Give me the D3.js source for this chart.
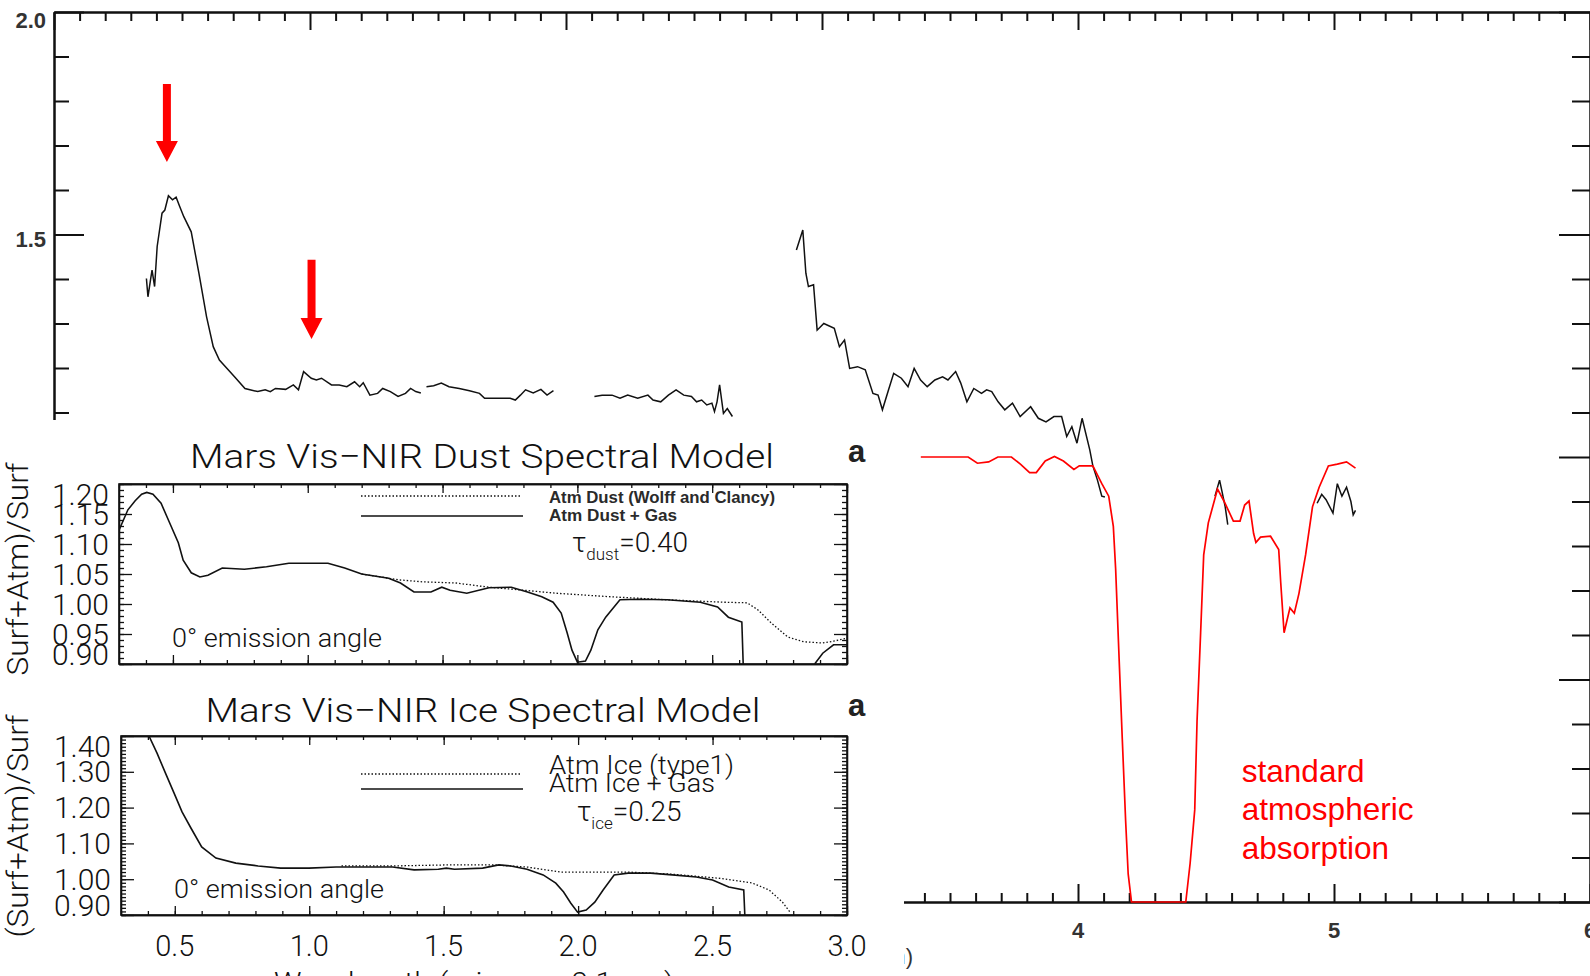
<!DOCTYPE html>
<html>
<head>
<meta charset="utf-8">
<script src="https://d3js.org/d3.v7.min.js" type="text/javascript"></script>
<style>
    body {
        margin: 0;
        background: #fff;
    }
    svg {
        display: block;
    }
    .axis path,
    .axis line {
        stroke: #111;
        stroke-width: 2px;
    }
    .inset .axis path,
    .inset .axis line {
        stroke-width: 1.3px;
    }
    .mainlabel {
        font-family: "Liberation Sans", Arial, sans-serif;
        font-size: 22px;
        font-weight: bold;
        fill: #333;
    }
    .hs {
        font-family: Roboto, "DejaVu Sans", sans-serif;
        font-weight: 300;
        fill: #111;
    }
    .obs {
        fill: none;
        stroke: #111;
        stroke-width: 1.5px;
    }
    .atmos {
        fill: none;
        stroke: #ff0000;
        stroke-width: 1.7px;
    }
    .model {
        fill: none;
        stroke: #111;
        stroke-width: 1.6px;
    }
    .model.dotted {
        stroke-width: 1.3px;
        stroke-dasharray: 1.5, 2;
    }
</style>
</head>
<body>
<svg id="chart" width="1590" height="976"></svg>
<script type="text/javascript">
// ---- observed ratio spectrum (black), in pieces, [wavelength um, ratio]
var obsSeg1 = [[0.361, 1.401], [0.367, 1.36], [0.377, 1.398], [0.383, 1.42], [0.393, 1.383], [0.403, 1.473],
    [0.422, 1.548], [0.433, 1.555], [0.447, 1.587], [0.463, 1.578], [0.477, 1.584], [0.491, 1.563],
    [0.507, 1.54], [0.536, 1.506], [0.566, 1.413], [0.596, 1.315], [0.622, 1.248], [0.646, 1.218],
    [0.676, 1.199], [0.706, 1.18], [0.746, 1.154], [0.796, 1.147], [0.825, 1.151], [0.845, 1.147],
    [0.865, 1.154], [0.905, 1.152], [0.935, 1.162], [0.955, 1.151], [0.975, 1.192], [1.005, 1.177],
    [1.025, 1.173], [1.045, 1.177], [1.084, 1.162], [1.114, 1.162], [1.144, 1.158], [1.174, 1.169],
    [1.194, 1.158], [1.208, 1.167], [1.234, 1.139], [1.264, 1.143], [1.284, 1.154], [1.314, 1.147],
    [1.344, 1.136], [1.373, 1.143], [1.393, 1.154], [1.413, 1.147], [1.433, 1.144]];
var obsSeg1b = [[1.455, 1.158], [1.483, 1.16], [1.513, 1.166], [1.543, 1.158], [1.583, 1.154], [1.623, 1.149],
    [1.662, 1.143], [1.682, 1.132], [1.752, 1.132], [1.782, 1.132], [1.802, 1.128], [1.822, 1.139],
    [1.842, 1.151], [1.872, 1.144], [1.902, 1.152], [1.926, 1.139], [1.951, 1.149]];
var obsSeg2 = [[2.111, 1.136], [2.141, 1.139], [2.18, 1.139], [2.211, 1.132], [2.241, 1.139], [2.28, 1.132],
    [2.32, 1.139], [2.34, 1.128], [2.37, 1.124], [2.40, 1.139], [2.43, 1.151], [2.46, 1.139],
    [2.49, 1.136], [2.51, 1.124], [2.53, 1.128], [2.55, 1.117], [2.57, 1.121], [2.58, 1.102],
    [2.59, 1.124], [2.60, 1.162], [2.615, 1.098], [2.63, 1.109], [2.65, 1.091]];
var obsSeg3 = [[2.90, 1.465], [2.925, 1.51], [2.937, 1.413], [2.947, 1.383], [2.967, 1.387], [2.981, 1.285],
    [3.007, 1.30], [3.048, 1.289], [3.068, 1.248], [3.088, 1.263], [3.108, 1.199], [3.139, 1.203],
    [3.169, 1.196], [3.199, 1.143], [3.219, 1.139], [3.236, 1.106], [3.26, 1.151], [3.28, 1.188],
    [3.31, 1.177], [3.336, 1.158], [3.36, 1.199], [3.385, 1.173], [3.411, 1.158], [3.441, 1.173],
    [3.471, 1.18], [3.492, 1.173], [3.522, 1.192], [3.542, 1.166], [3.566, 1.124], [3.593, 1.154],
    [3.623, 1.143], [3.643, 1.151], [3.663, 1.147], [3.688, 1.124], [3.714, 1.106], [3.744, 1.121],
    [3.774, 1.091], [3.815, 1.113], [3.845, 1.087], [3.875, 1.079], [3.906, 1.091], [3.936, 1.091],
    [3.956, 1.046], [3.976, 1.068], [3.996, 1.031], [4.016, 1.087], [4.046, 1.016], [4.058, 0.98],
    [4.076, 0.948], [4.093, 0.912], [4.105, 0.91]];
var obsSeg4 = [[4.535, 0.912], [4.553, 0.948], [4.562, 0.924], [4.575, 0.888], [4.585, 0.848]];
var obsSeg5 = [[4.934, 0.896], [4.952, 0.916], [4.969, 0.904], [4.996, 0.874], [5.013, 0.94], [5.031, 0.912],
    [5.049, 0.932], [5.066, 0.90], [5.075, 0.87], [5.084, 0.88]];

// ---- standard atmospheric transmission (red)
var atmWl = [3.386, 3.571, 3.607, 3.651, 3.687, 3.74, 3.775, 3.811, 3.837, 3.872, 3.908, 3.943, 3.984,
    4.005, 4.058, 4.093, 4.12, 4.138, 4.147, 4.161, 4.173, 4.186, 4.196, 4.209, 4.421, 4.438, 4.456,
    4.465, 4.479, 4.491, 4.509, 4.545, 4.571, 4.607, 4.633, 4.651, 4.668, 4.686, 4.695, 4.713, 4.752,
    4.784, 4.792, 4.805, 4.828, 4.845, 4.863, 4.889, 4.916, 4.942, 4.978, 5.013, 5.049, 5.084];
var atmVal = [1.0, 1.0, 0.986, 0.989, 1.0, 1.0, 0.984, 0.965, 0.965, 0.991, 1.001, 0.991, 0.972,
    0.98, 0.98, 0.94, 0.912, 0.844, 0.749, 0.541, 0.366, 0.183, 0.063, 0.0, 0.0, 0.087, 0.207,
    0.406, 0.605, 0.78, 0.852, 0.928, 0.90, 0.856, 0.856, 0.892, 0.901, 0.828, 0.808, 0.82, 0.822,
    0.792, 0.717, 0.605, 0.661, 0.649, 0.693, 0.78, 0.888, 0.932, 0.98, 0.984, 0.989, 0.975];

// arrows marking the absorption features
var arrowMarks = [{ wl: 0.441, from: 1.838, to: 1.663 }, { wl: 1.006, from: 1.443, to: 1.265 }];
var atmLabel = ["standard", "atmospheric", "absorption"];

// ---- model panels (inset), [wavelength um, (Surf+Atm)/Surf]
var dustGas = [[0.30, 1.123], [0.333, 1.157], [0.36, 1.172], [0.384, 1.183], [0.403, 1.186], [0.426, 1.183],
    [0.456, 1.168], [0.486, 1.137], [0.52, 1.102], [0.538, 1.073], [0.568, 1.052], [0.60, 1.045],
    [0.63, 1.048], [0.683, 1.06], [0.765, 1.058], [0.847, 1.062], [0.93, 1.068], [1.075, 1.068],
    [1.137, 1.06], [1.20, 1.05], [1.30, 1.043], [1.344, 1.035], [1.394, 1.02], [1.457, 1.02],
    [1.497, 1.028], [1.528, 1.023], [1.59, 1.018], [1.672, 1.027], [1.755, 1.028], [1.815, 1.02],
    [1.868, 1.012], [1.91, 1.003], [1.94, 0.985], [1.962, 0.952], [1.98, 0.923], [2.0, 0.903],
    [2.03, 0.905], [2.05, 0.923], [2.076, 0.957], [2.105, 0.978], [2.136, 0.995], [2.158, 1.007],
    [2.23, 1.008], [2.333, 1.007], [2.456, 1.003], [2.52, 0.995], [2.56, 0.978], [2.61, 0.97],
    [2.615, 0.90]];
var dustGasTail = [[2.88, 0.90], [2.91, 0.918], [2.95, 0.932], [3.0, 0.932]];
var dustOnly = [[1.20, 1.05], [1.30, 1.043], [1.344, 1.04], [1.425, 1.037], [1.55, 1.035], [1.672, 1.028],
    [1.80, 1.023], [1.92, 1.018], [2.125, 1.012], [2.333, 1.007], [2.54, 1.003], [2.63, 1.002],
    [2.67, 0.99], [2.72, 0.968], [2.78, 0.945], [2.84, 0.937], [2.91, 0.935], [2.95, 0.938], [3.0, 0.943]];

var iceGas = [[0.404, 1.40], [0.434, 1.352], [0.465, 1.297], [0.497, 1.241], [0.527, 1.188], [0.56, 1.143],
    [0.60, 1.09], [0.653, 1.059], [0.727, 1.045], [0.81, 1.037], [0.894, 1.031], [0.999, 1.031],
    [1.10, 1.034], [1.31, 1.034], [1.39, 1.026], [1.48, 1.028], [1.51, 1.031], [1.54, 1.028],
    [1.645, 1.031], [1.705, 1.04], [1.75, 1.037], [1.81, 1.028], [1.87, 1.012], [1.917, 0.989],
    [1.946, 0.964], [1.973, 0.933], [1.998, 0.908], [2.03, 0.914], [2.062, 0.936], [2.093, 0.97],
    [2.134, 1.012], [2.186, 1.017], [2.27, 1.017], [2.35, 1.012], [2.44, 1.006], [2.50, 0.998],
    [2.56, 0.978], [2.616, 0.97], [2.62, 0.90]];
var iceOnly = [[1.12, 1.037], [1.31, 1.037], [1.52, 1.04], [1.685, 1.04], [1.81, 1.034], [1.936, 1.02],
    [2.06, 1.02], [2.186, 1.02], [2.35, 1.014], [2.52, 1.003], [2.645, 0.99], [2.71, 0.97],
    [2.76, 0.936], [2.79, 0.906]];

var dustTickLabels = [0.90, 0.95, 1.00, 1.05, 1.10, 1.15, 1.20];
var iceTickLabels = [0.90, 1.00, 1.10, 1.20, 1.30, 1.40];
var insetXLabels = [0.5, 1.0, 1.5, 2.0, 2.5, 3.0];


var svg = d3.select("#chart");

// ================= background plot =================
var x = d3.scaleLinear().domain([0, 6]).range([54, 1590]);
var y = d3.scaleLinear().domain([0, 2]).range([902, 12]);

var main = svg.append("g");

var xt = d3.range(0, 61).map(function(d) { return d / 10; });
var xMajor = xt.filter(function(d) { return d % 1 === 0; });
var xMinor = xt.filter(function(d) { return d % 1 !== 0; });
var yt = d3.range(0, 21).map(function(d) { return d / 10; });
var yMajor = yt.filter(function(d) { return Math.round(d * 10) % 5 === 0; });
var yMinor = yt.filter(function(d) { return Math.round(d * 10) % 5 !== 0; });

function ticks(g, axis, values, size) {
    g.call(axis.tickValues(values).tickSize(size).tickSizeOuter(0).tickFormat(""));
}

// top (ticks pointing down)
var topAx = main.append("g").attr("class", "axis").attr("transform", "translate(0,12)");
ticks(topAx.append("g"), d3.axisBottom(x), xMinor, 9);
ticks(topAx.append("g"), d3.axisBottom(x), xMajor, 18);
// bottom (ticks pointing up)
var botAx = main.append("g").attr("class", "axis").attr("transform", "translate(0,902)");
ticks(botAx.append("g"), d3.axisTop(x), xMinor, 9);
ticks(botAx.append("g"), d3.axisTop(x), xMajor, 18);
// left
var lftAx = main.append("g").attr("class", "axis").attr("transform", "translate(54,0)");
ticks(lftAx.append("g"), d3.axisRight(y), yMinor, 15);
ticks(lftAx.append("g"), d3.axisRight(y), yMajor, 30);
// right
var rgtAx = main.append("g").attr("class", "axis").attr("transform", "translate(1590,0)");
ticks(rgtAx.append("g"), d3.axisLeft(y), yMinor, 18);
ticks(rgtAx.append("g"), d3.axisLeft(y), yMajor, 31);

main.selectAll(".ylab")
    .data(yMajor)
    .enter()
    .append("text")
    .attr("class", "mainlabel")
    .attr("x", 46)
    .attr("y", function(d) { return Math.max(y(d) + 4, 20) + 8; })
    .attr("text-anchor", "end")
    .text(function(d) { return d.toFixed(1); });

main.selectAll(".xlab")
    .data(xMajor)
    .enter()
    .append("text")
    .attr("class", "mainlabel")
    .attr("x", function(d) { return x(d); })
    .attr("y", 938)
    .attr("text-anchor", "middle")
    .text(function(d) { return d; });

// x title, mostly hidden behind the pasted panels
main.append("text")
    .attr("class", "mainlabel")
    .attr("x", 913)
    .attr("y", 964)
    .attr("text-anchor", "end")
    .style("font-weight", "normal")
    .text("Wavelength (\u00b5m)");

var line = d3.line()
    .x(function(d) { return x(d[0]); })
    .y(function(d) { return y(d[1]); });

main.selectAll(".obs")
    .data([obsSeg1, obsSeg1b, obsSeg2, obsSeg3, obsSeg4, obsSeg5])
    .enter()
    .append("path")
    .attr("class", "obs")
    .attr("d", line);

main.append("path")
    .datum(d3.zip(atmWl, atmVal))
    .attr("class", "atmos")
    .attr("d", line);

main.selectAll(".arrow")
    .data(arrowMarks)
    .enter()
    .append("path")
    .attr("class", "arrow")
    .attr("fill", "#ff0000")
    .attr("d", function(a) {
        var cx = x(a.wl), y0 = y(a.from), y1 = y(a.to), hb = y1 - 21;
        return "M" + (cx - 4) + "," + y0 + "H" + (cx + 4) + "V" + hb + "H" + (cx + 11) +
            "L" + cx + "," + y1 + "L" + (cx - 11) + "," + hb + "H" + (cx - 4) + "Z";
    });

main.append("text")
    .attr("x", x(4.64))
    .attr("y", y(0.27))
    .attr("fill", "#ff0000")
    .style("font-family", "'Liberation Sans', Arial, sans-serif")
    .style("font-size", "31.5px")
    .selectAll("tspan")
    .data(atmLabel)
    .enter()
    .append("tspan")
    .attr("x", x(4.64))
    .attr("dy", function(d, i) { return i ? 38.5 : 0; })
    .text(function(d) { return d; });

// the model panels sit on a white patch over the lower left
svg.append("rect")
    .attr("x", 0).attr("y", 420)
    .attr("width", 904).attr("height", 556)
    .attr("fill", "#fff");

// ================= inset model panels =================
function panel(cfg) {
    var g = svg.append("g").attr("class", "inset");
    var px = d3.scaleLinear().domain([0.3, 3.0]).range([cfg.left, cfg.right]);
    var py = d3.scaleLinear().domain(cfg.yDomain).range([cfg.bottom, cfg.top]);

    g.append("clipPath").attr("id", cfg.id + "clip")
        .append("rect")
        .attr("x", cfg.left).attr("y", cfg.top)
        .attr("width", cfg.right - cfg.left).attr("height", cfg.bottom - cfg.top);

    var pxt = d3.range(3, 31).map(function(d) { return d / 10; });
    var pxMaj = pxt.filter(function(d) { return Math.round(d * 10) % 5 === 0; });
    var pyt = d3.range(Math.round(cfg.yDomain[0] * 100), Math.round(cfg.yDomain[1] * 100) + 1)
        .map(function(d) { return d / 100; });
    var pyMaj = pyt.filter(function(d) { return Math.round(d * 100) % cfg.majorEvery === 0; });

    var bAx = g.append("g").attr("class", "axis").attr("transform", "translate(0," + cfg.bottom + ")");
    ticks(bAx.append("g"), d3.axisTop(px), pxt, 4);
    ticks(bAx.append("g"), d3.axisTop(px), pxMaj, 9);
    var tAx = g.append("g").attr("class", "axis").attr("transform", "translate(0," + cfg.top + ")");
    ticks(tAx.append("g"), d3.axisBottom(px), pxt, 4);
    ticks(tAx.append("g"), d3.axisBottom(px), pxMaj, 9);
    var lAx = g.append("g").attr("class", "axis").attr("transform", "translate(" + cfg.left + ",0)");
    ticks(lAx.append("g"), d3.axisRight(py), pyt, 5);
    ticks(lAx.append("g"), d3.axisRight(py), pyMaj, 13);
    var rAx = g.append("g").attr("class", "axis").attr("transform", "translate(" + cfg.right + ",0)");
    ticks(rAx.append("g"), d3.axisLeft(py), pyt, 5);
    ticks(rAx.append("g"), d3.axisLeft(py), pyMaj, 13);

    g.append("rect")
        .attr("x", cfg.left).attr("y", cfg.top)
        .attr("width", cfg.right - cfg.left).attr("height", cfg.bottom - cfg.top)
        .attr("fill", "none").attr("stroke", "#111").attr("stroke-width", 1.6);

    // y tick labels, squeezed inside the frame at the ends
    g.selectAll(".ytl")
        .data(cfg.yLabels)
        .enter()
        .append("text")
        .attr("class", "hs")
        .attr("x", cfg.left - 10)
        .attr("y", function(d) {
            return Math.min(Math.max(py(d), cfg.top + 10), cfg.bottom - 10) + 10.5;
        })
        .attr("text-anchor", "end")
        .style("font-size", "30px")
        .text(function(d) { return d.toFixed(2); });

    var pline = d3.line()
        .x(function(d) { return px(d[0]); })
        .y(function(d) { return py(d[1]); });

    var curves = g.append("g").attr("clip-path", "url(#" + cfg.id + "clip)");
    cfg.dotted.forEach(function(s) {
        curves.append("path").datum(s).attr("class", "model dotted").attr("d", pline);
    });
    cfg.solid.forEach(function(s) {
        curves.append("path").datum(s).attr("class", "model").attr("d", pline);
    });

    // title and panel letter
    g.append("text")
        .attr("class", "hs")
        .attr("x", cfg.titleX).attr("y", cfg.titleY)
        .attr("text-anchor", "middle")
        .attr("textLength", cfg.titleLen)
        .attr("lengthAdjust", "spacingAndGlyphs")
        .style("font-size", "34px")
        .text(cfg.title);
    g.append("text")
        .attr("x", cfg.right + 1).attr("y", cfg.titleY - 6)
        .style("font-family", "'Liberation Sans', Arial, sans-serif")
        .style("font-weight", "bold")
        .style("font-size", "31px")
        .attr("fill", "#222")
        .text("a");

    g.append("text")
        .attr("class", "hs")
        .attr("x", cfg.left + 53).attr("y", cfg.bottom - 17)
        .attr("textLength", 210)
        .attr("lengthAdjust", "spacingAndGlyphs")
        .style("font-size", "26px")
        .text("0\u00b0 emission angle");

    // legend
    g.append("line").attr("class", "model dotted")
        .attr("x1", 361).attr("x2", 521).attr("y1", cfg.legY[0]).attr("y2", cfg.legY[0]);
    g.append("line").attr("class", "model")
        .attr("x1", 361).attr("x2", 523).attr("y1", cfg.legY[1]).attr("y2", cfg.legY[1]);

    // y-axis title
    var yl = g.append("g");
    if (cfg.yTitleClip) {
        g.append("clipPath").attr("id", cfg.id + "yclip")
            .append("rect").attr("x", 0).attr("y", 420).attr("width", 60).attr("height", cfg.yTitleClip - 420);
        yl.attr("clip-path", "url(#" + cfg.id + "yclip)");
    }
    yl.append("text")
        .attr("class", "hs")
        .attr("transform", "translate(28," + cfg.yTitleY + ") rotate(-90)")
        .attr("text-anchor", "middle")
        .attr("textLength", 223)
        .attr("lengthAdjust", "spacingAndGlyphs")
        .style("font-size", "30px")
        .text("(Surf+Atm)/Surf");

    return { g: g, px: px, py: py };
}

var dust = panel({
    id: "dust", left: 119, right: 847, top: 484, bottom: 664, yDomain: [0.9, 1.2], majorEvery: 5,
    yLabels: dustTickLabels, solid: [dustGas, dustGasTail], dotted: [dustOnly],
    title: "Mars Vis\u2212NIR Dust Spectral Model", titleX: 482, titleY: 468, titleLen: 584,
    legY: [496, 516], yTitleY: 574, yTitleClip: 676
});

dust.g.selectAll(".leg")
    .data(["Atm Dust (Wolff and Clancy)", "Atm Dust + Gas"])
    .enter()
    .append("text")
    .attr("x", 549)
    .attr("y", function(d, i) { return 503 + i * 18; })
    .attr("textLength", function(d, i) { return i ? 128 : 226; })
    .attr("lengthAdjust", "spacingAndGlyphs")
    .style("font-family", "'Liberation Sans', Arial, sans-serif")
    .style("font-size", "17px")
    .style("font-weight", "bold")
    .attr("fill", "#2a2a2a")
    .text(function(d) { return d; });

var dustTau = dust.g.append("text").attr("class", "hs").attr("x", 572).attr("y", 552).style("font-size", "28px");
dustTau.append("tspan").text("\u03c4");
dustTau.append("tspan").attr("dy", 8).style("font-size", "17px").text("dust");
dustTau.append("tspan").attr("dy", -8).text("=0.40");

var ice = panel({
    id: "ice", left: 121, right: 847, top: 736, bottom: 915, yDomain: [0.9, 1.4], majorEvery: 10,
    yLabels: iceTickLabels, solid: [iceGas], dotted: [iceOnly],
    title: "Mars Vis\u2212NIR Ice Spectral Model", titleX: 483, titleY: 722, titleLen: 555,
    legY: [774, 789], yTitleY: 826, yTitleClip: null
});

ice.g.selectAll(".leg")
    .data(["Atm Ice (type1)", "Atm Ice + Gas"])
    .enter()
    .append("text")
    .attr("class", "hs")
    .attr("x", 549)
    .attr("y", function(d, i) { return 774 + i * 18; })
    .attr("textLength", function(d, i) { return i ? 166 : 185; })
    .attr("lengthAdjust", "spacingAndGlyphs")
    .style("font-size", "26px")
    .text(function(d) { return d; });

var iceTau = ice.g.append("text").attr("class", "hs").attr("x", 577).attr("y", 821).style("font-size", "28px");
iceTau.append("tspan").text("\u03c4");
iceTau.append("tspan").attr("dy", 8).style("font-size", "17px").text("ice");
iceTau.append("tspan").attr("dy", -8).text("=0.25");

ice.g.selectAll(".xtl")
    .data(insetXLabels)
    .enter()
    .append("text")
    .attr("class", "hs")
    .attr("x", function(d) { return ice.px(d); })
    .attr("y", 956)
    .attr("text-anchor", "middle")
    .style("font-size", "29px")
    .text(function(d) { return d.toFixed(1); });

ice.g.append("text")
    .attr("class", "hs")
    .attr("x", 474).attr("y", 992)
    .attr("text-anchor", "middle")
    .attr("textLength", 400)
    .attr("lengthAdjust", "spacingAndGlyphs")
    .style("font-size", "28px")
    .text("Wavelength (microns, 0.1 nm)");
</script>
</body>
</html>
